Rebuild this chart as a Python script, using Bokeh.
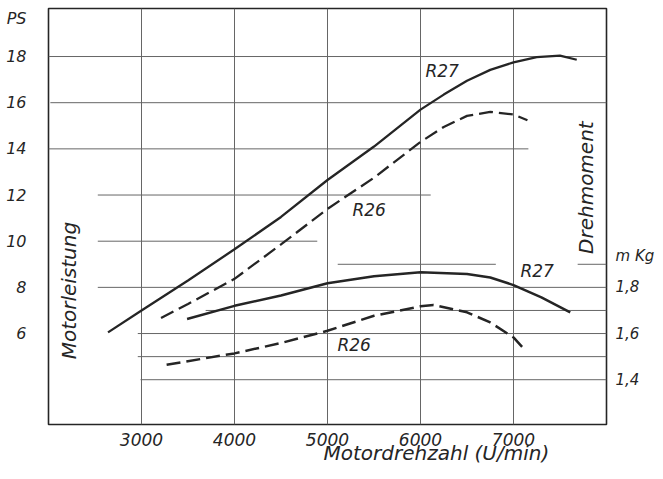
from math import pi
from bokeh.plotting import figure
from bokeh.models import Range1d, LinearAxis, FixedTicker, CustomJSTickFormatter
from bokeh.core.properties import value
from bokeh.embed import file_html
from bokeh.resources import INLINE

# ---- data ----
rpm_ticks = [3000, 4000, 5000, 6000, 7000]
ps_ticks = [6, 8, 10, 12, 14, 16, 18]
mkg_ticks = [1.4, 1.6, 1.8]
ps_unit = "PS"
mkg_unit = "m Kg"
x_title = "Motordrehzahl (U/min)"
y_title_left = "Motorleistung"
y_title_right = "Drehmoment"

# power curves (PS)
r27_ps_rpm = [2640, 3000, 3500, 4000, 4500, 5000, 5500, 6000, 6250, 6500, 6750, 7000, 7250, 7500, 7680]
r27_ps = [6.05, 7.0, 8.3, 9.65, 11.05, 12.65, 14.1, 15.7, 16.35, 16.95, 17.42, 17.75, 17.97, 18.04, 17.86]
r26_ps_rpm = [3210, 3500, 4000, 4500, 5000, 5500, 6000, 6250, 6500, 6750, 7000, 7150]
r26_ps = [6.67, 7.28, 8.37, 9.86, 11.4, 12.75, 14.3, 14.95, 15.43, 15.6, 15.49, 15.24]

# torque curves (mKg)
r27_mkg_rpm = [3490, 4000, 4500, 5000, 5500, 6000, 6500, 6750, 7000, 7300, 7610]
r27_mkg = [1.663, 1.72, 1.765, 1.818, 1.848, 1.865, 1.858, 1.843, 1.81, 1.757, 1.692]
r26_mkg_rpm = [3270, 4000, 4500, 5000, 5500, 6000, 6140, 6500, 6750, 7000, 7130]
r26_mkg = [1.465, 1.514, 1.559, 1.612, 1.677, 1.718, 1.724, 1.692, 1.648, 1.583, 1.526]

# horizontal rule lines of the paper grid (level, from rpm, to rpm)
ps_rule_level = [18, 16, 14, 12, 10]
ps_rule_from = [2000, 2020, 2000, 2530, 2530]
ps_rule_to = [8000, 8000, 7160, 6110, 4890]
mkg_rule_level = [1.9, 1.9, 1.8, 1.7, 1.6, 1.5, 1.4]
mkg_rule_from = [5110, 7690, 2530, 3690, 2960, 2960, 2990]
mkg_rule_to = [6810, 8000, 8000, 8000, 8000, 8000, 8000]

INK = "#252525"
GRID = "#666666"
FONT = "DejaVu Sans"

p = figure(width=660, height=476,
           x_range=Range1d(2000, 8000), y_range=Range1d(2.06, 20.08),
           output_backend="svg", toolbar_location=None,
           min_border_left=48, min_border_right=54,
           min_border_top=8, min_border_bottom=52)
p.extra_y_ranges = {"torque": Range1d(1.206, 3.008)}
p.background_fill_color = "white"
p.border_fill_color = "white"
p.outline_line_color = INK
p.outline_line_width = 1.6

# vertical grid
p.xgrid.ticker = FixedTicker(ticks=rpm_ticks)
p.xgrid.grid_line_color = GRID
p.xgrid.grid_line_width = 1
p.ygrid.visible = False


def style_axis(ax, size):
    ax.axis_line_color = None
    ax.major_tick_line_color = None
    ax.minor_tick_line_color = None
    ax.major_tick_out = 0
    ax.major_tick_in = 0
    ax.minor_tick_out = 0
    ax.minor_tick_in = 0
    ax.major_label_text_font = FONT
    ax.major_label_text_font_style = "italic"
    ax.major_label_text_font_size = size
    ax.major_label_text_color = INK


# bottom: rpm ticks
p.xaxis.ticker = FixedTicker(ticks=rpm_ticks)
style_axis(p.xaxis[0], "17px")
p.xaxis.major_label_standoff = 8

# second bottom axis that only carries the title (placed right of centre as in the original)
title_axis = LinearAxis(ticker=FixedTicker(ticks=[6171]),
                        formatter=CustomJSTickFormatter(args=dict(t=x_title), code="return t"))
style_axis(title_axis, "20px")
title_axis.major_label_standoff = -8
p.add_layout(title_axis, "below")

# left: PS ticks plus the unit on top
p.yaxis.ticker = FixedTicker(ticks=ps_ticks + [19.65])
p.yaxis.formatter = CustomJSTickFormatter(args=dict(u=ps_unit),
                                          code="return tick > 19 ? u : tick.toFixed(0)")
style_axis(p.yaxis[0], "16px")
p.yaxis.major_label_standoff = 22

# right: torque ticks plus the unit
raxis = LinearAxis(y_range_name="torque", ticker=FixedTicker(ticks=mkg_ticks + [1.938]),
                   formatter=CustomJSTickFormatter(
                       args=dict(u=mkg_unit),
                       code="return tick > 1.9 ? u : tick.toFixed(1).replace('.', ',')"))
style_axis(raxis, "15px")
raxis.major_label_standoff = 9
p.add_layout(raxis, "right")

# horizontal rules
p.segment(x0=ps_rule_from, y0=ps_rule_level, x1=ps_rule_to, y1=ps_rule_level,
          line_color=GRID, line_width=1)
p.segment(x0=mkg_rule_from, y0=mkg_rule_level, x1=mkg_rule_to, y1=mkg_rule_level,
          line_color=GRID, line_width=1, y_range_name="torque")

# curves
p.line(r27_ps_rpm, r27_ps, line_color=INK, line_width=2.3)
p.line(r26_ps_rpm, r26_ps, line_color=INK, line_width=2.3, line_dash="14 6")
p.line(r27_mkg_rpm, r27_mkg, line_color=INK, line_width=2.5, y_range_name="torque")
p.line(r26_mkg_rpm, r26_mkg, line_color=INK, line_width=2.5, line_dash="14 6",
       y_range_name="torque")

# curve labels
txt = dict(text_font=value(FONT), text_font_style="italic", text_font_size="17px",
           text_color=INK, text_baseline="middle", text_align="left")
p.text(x=[6053], y=[17.39], text=["R27"], **txt)
p.text(x=[5268], y=[11.33], text=["R26"], **txt)
p.text(x=[7074], y=[1.873], text=["R27"], y_range_name="torque", **txt)
p.text(x=[5107], y=[1.552], text=["R26"], y_range_name="torque", **txt)

# rotated titles inside the frame
vt = dict(text_font=value(FONT), text_font_style="italic", text_font_size="20px",
          text_color=INK, text_baseline="middle", text_align="center", angle=pi / 2)
p.text(x=[2220], y=[7.86], text=[y_title_left], **vt)
p.text(x=[7784], y=[12.32], text=[y_title_right], **vt)

open("out.html", "w").write(file_html(p, INLINE))
